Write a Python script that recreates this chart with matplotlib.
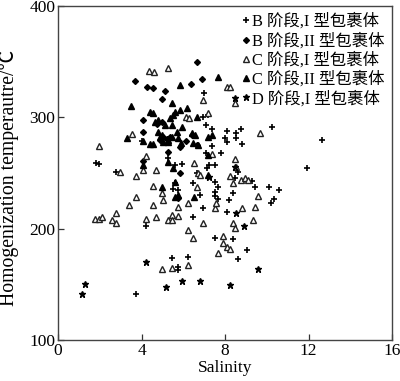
import matplotlib
matplotlib.use("Agg")
import matplotlib.pyplot as plt

plt.rcParams['font.family'] = ['Liberation Serif', 'Noto Sans CJK SC', 'DejaVu Sans']
plt.rcParams['mathtext.fontset'] = 'stix'

# B stage, type I inclusions (+)
b1_x = [1.81, 1.98, 2.78, 4.01, 4.22, 3.74, 5.28, 5.60, 5.93, 5.52, 5.76, 5.60,
        6.48, 6.80, 6.64, 7.23, 7.52, 7.12, 6.96, 7.09, 7.36, 6.99, 7.18, 7.36,
        7.07, 7.81, 8.08, 8.53, 8.77, 8.00, 8.08, 8.53, 8.80, 7.52, 7.68, 7.52,
        7.52, 7.68, 8.20, 8.39, 8.62, 8.48, 9.04, 9.28, 9.45, 10.09, 10.60, 10.36,
        10.20, 6.96, 8.08, 6.48, 7.52, 8.37, 9.04, 8.64, 5.46, 6.21, 5.76, 5.76,
        10.24, 12.63, 11.93]
b1_y = [258.7, 258.1, 251.2, 279.0, 202.7, 141.4, 263.2, 257.2, 258.1, 235.4, 234.8, 240.8,
        241.3, 230.3, 250.3, 257.2, 257.2, 254.3, 300.1, 293.1, 289.6, 321.9, 302.1, 274.3,
        267.7, 267.7, 288.0, 285.7, 289.3, 281.5, 278.1, 281.2, 275.8, 242.2, 237.7, 233.2,
        229.4, 226.4, 225.8, 232.4, 250.9, 245.3, 242.9, 242.9, 237.8, 237.8, 234.8, 226.4,
        223.4, 218.9, 214.8, 210.8, 191.4, 191.0, 180.9, 172.8, 174.0, 174.9, 165.9, 162.9,
        291.1, 279.7, 254.8]

# B stage, type II inclusions (filled diamond)
b2_x = [6.68, 3.69, 4.25, 4.55, 6.37, 6.88, 4.97, 5.13, 4.06, 4.06, 4.74, 4.98,
        5.84, 5.28, 4.06, 6.40, 6.64, 5.04, 5.36, 4.89, 6.13, 5.76, 5.84, 5.21]
b2_y = [350.0, 332.9, 327.0, 326.4, 330.0, 334.2, 316.2, 323.7, 297.6, 287.1, 294.0, 295.8,
        249.8, 269.2, 260.8, 284.2, 275.2, 282.6, 282.1, 279.7, 278.8, 227.3, 273.1, 280.3]

# C stage, type I inclusions (open triangle)
c1_x = [4.36, 4.60, 5.28, 6.96, 8.08, 8.24, 8.48, 9.67, 6.12, 6.27, 7.20, 3.56,
        1.96, 2.97, 3.72, 4.06, 4.69, 4.22, 6.53, 6.72, 6.80, 7.36, 8.48, 8.51,
        8.24, 8.40, 8.77, 8.96, 9.11, 9.57, 9.44, 8.80, 7.52, 7.57, 8.37, 8.48,
        9.33, 7.92, 7.92, 8.08, 8.24, 7.68, 6.21, 5.45, 5.00, 6.48, 6.21, 6.96,
        5.45, 5.76, 5.28, 5.47, 5.76, 6.21, 5.01, 5.00, 4.54, 3.74, 3.42, 4.54,
        1.77, 1.96, 2.12, 2.76, 2.60, 2.76, 4.22, 4.69, 6.64]
c1_y = [341.9, 341.0, 344.1, 315.6, 327.0, 327.0, 312.9, 285.7, 300.6, 299.2, 303.6, 284.8,
        274.6, 251.2, 247.6, 252.7, 252.7, 265.6, 258.8, 249.8, 248.3, 267.1, 262.3, 255.7,
        247.6, 240.8, 243.8, 245.3, 243.8, 229.5, 219.8, 218.9, 218.9, 223.4, 205.4, 200.4,
        207.8, 193.5, 186.9, 183.9, 181.5, 178.0, 167.4, 164.5, 163.6, 191.9, 198.9, 204.9,
        212.3, 211.4, 207.8, 207.8, 219.8, 222.8, 225.8, 231.8, 238.6, 228.8, 221.3, 221.3,
        208.5, 208.5, 210.8, 213.8, 207.8, 205.4, 208.5, 210.3, 237.7]

# C stage, type II inclusions (filled triangle)
c2_x = [5.84, 7.68, 3.50, 5.45, 5.84, 6.16, 5.60, 5.52, 5.36, 6.64, 5.92, 5.45,
        5.13, 5.68, 5.45, 5.28, 5.76, 5.89, 6.56, 6.48, 6.72, 7.20, 7.36, 7.20,
        4.41, 4.56, 3.32, 4.07, 4.41, 4.56, 4.65, 4.80, 4.06, 4.80, 4.97, 5.04,
        5.28, 5.28, 5.50, 7.20, 5.60, 5.76, 6.53, 4.97, 5.60, 6.40, 4.89]
c2_y = [329.1, 336.0, 310.5, 312.6, 306.6, 308.1, 305.1, 302.1, 299.2, 300.6, 291.6, 293.1,
        293.1, 287.1, 282.6, 278.1, 281.2, 276.7, 284.2, 276.7, 275.2, 282.6, 284.2, 266.2,
        305.1, 303.6, 281.7, 279.0, 275.8, 275.8, 296.1, 297.6, 257.2, 287.1, 284.2, 278.1,
        279.7, 260.2, 254.3, 248.3, 228.8, 230.3, 228.8, 237.2, 242.2, 285.7, 282.1]

# D stage, type I inclusions (star)
d1_x = [1.15, 1.29, 4.22, 5.17, 5.94, 6.80, 8.24, 9.58, 8.53, 8.91, 8.48, 7.23, 8.48]
d1_y = [141.3, 150.3, 170.1, 147.6, 153.0, 153.0, 149.4, 163.8, 214.1, 202.4, 255.4, 246.4, 317.4]

labels = ["B 阶段,I 型包裹体", "B 阶段,II 型包裹体", "C 阶段,I 型包裹体",
          "C 阶段,II 型包裹体", "D 阶段,I 型包裹体"]

x_ticks = [0, 4, 8, 12, 16]
y_ticks = [100, 200, 300, 400]

fig = plt.figure(figsize=(4.0, 3.81), dpi=100)
ax = fig.add_axes([0.145, 0.108, 0.835, 0.876])

ax.plot(b1_x, b1_y, linestyle='none', marker='+', markersize=4.6, mew=1.2,
        color='black', label=labels[0])
ax.plot(b2_x, b2_y, linestyle='none', marker='D', markersize=3.0,
        color='black', label=labels[1])
ax.plot(c1_x, c1_y, linestyle='none', marker='^', markersize=3.8, mew=1.0,
        mfc='white', mec='#222222', label=labels[2])
ax.plot(c2_x, c2_y, linestyle='none', marker='^', markersize=3.8,
        color='black', label=labels[3])
ax.plot(d1_x, d1_y, linestyle='none', marker='*', markersize=5.0,
        color='black', label=labels[4])

ax.set_xlim(0, 16)
ax.set_ylim(100, 400)
ax.set_xticks(x_ticks)
ax.set_yticks(y_ticks)
ax.tick_params(direction='in', length=4, width=0.9, labelsize=12.5, pad=2,
               colors='#333333', labelcolor='black')
for s in ax.spines.values():
    s.set_color('#444444')
    s.set_linewidth(1.0)

ax.set_xlabel("Salinity", fontsize=12.5, labelpad=1)
ax.set_ylabel("Homogenization temperautre/℃", fontsize=14.2)
ax.yaxis.set_label_coords(-0.118, 0.485)

leg = ax.legend(loc='upper right', fontsize=11.8, frameon=False, handlelength=0.4,
                handletextpad=0.2, labelspacing=0.17, borderaxespad=0.25,
                borderpad=0.2)

fig.savefig("out.png", dpi=100)
